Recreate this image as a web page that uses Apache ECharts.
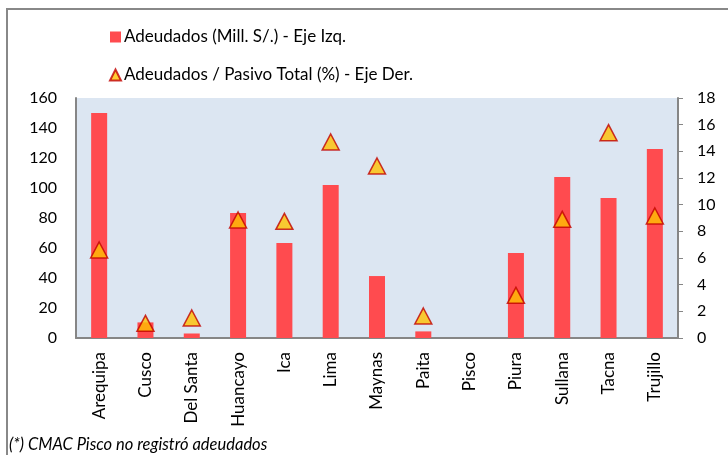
<!DOCTYPE html>
<html>
<head>
<meta charset="utf-8">
<script src="https://cdn.jsdelivr.net/npm/echarts@6/dist/echarts.min.js"></script>
<style>
  html, body { margin: 0; padding: 0; background: #fff; }
  #chart { width: 728px; height: 455px; }
</style>
</head>
<body>
<div id="chart"></div>
<script>
// Cajas municipales (CMAC): adeudados en millones de soles y como % del pasivo total
const categories = ['Arequipa', 'Cusco', 'Del Santa', 'Huancayo', 'Ica', 'Lima', 'Maynas', 'Paita', 'Pisco', 'Piura', 'Sullana', 'Tacna', 'Trujillo'];
const adeudados = [150, 10.4, 3, 83.3, 63.3, 102, 41.3, 4.4, 0, 56.7, 107.3, 93.3, 126];
const ratioPasivo = [6.6, 1.1, 1.5, 8.85, 8.75, 14.7, 12.9, 1.65, null, 3.2, 8.9, 15.4, 9.15];
const leftTicks = [0, 160, 20];
const rightTicks = [0, 18, 2];

const seriesNames = ['Adeudados (Mill. S/.) - Eje Izq.', 'Adeudados / Pasivo Total (%) - Eje Der.'];
const footnote = '(*) CMAC Pisco no registró adeudados';

const FONT = 'Lato, "Open Sans", sans-serif';
const chart = echarts.init(document.getElementById('chart'));

chart.setOption({
  animation: false,
  textStyle: { fontFamily: FONT, color: '#000' },
  graphic: [
    {
      type: 'rect',
      shape: { x: 7, y: 9, width: 740, height: 470 },
      style: { fill: 'none', stroke: '#888888', lineWidth: 2 }
    },
    {
      type: 'text',
      left: 9,
      top: 436,
      style: { text: footnote, font: 'italic 16.5px ' + FONT, fill: '#000' }
    }
  ],
  legend: {
    orient: 'vertical',
    left: 104,
    top: 23,
    itemWidth: 11,
    itemHeight: 11,
    itemGap: 20,
    textStyle: { fontSize: 17, lineHeight: 18, fontFamily: FONT, color: '#000', padding: [0, 0, 0, -2] },
    data: [
      { name: seriesNames[0], icon: 'rect' },
      { name: seriesNames[1], icon: 'triangle' }
    ]
  },
  grid: { left: 76, right: 50, top: 98, bottom: 117, show: true, backgroundColor: '#DCE6F2', borderWidth: 0 },
  xAxis: {
    type: 'category',
    data: categories,
    axisLine: { lineStyle: { color: '#868686', width: 2 } },
    axisTick: { show: false },
    axisLabel: { rotate: 90, fontSize: 17, color: '#000', margin: 14, fontFamily: FONT, interval: 0 }
  },
  yAxis: [
    {
      type: 'value',
      min: leftTicks[0], max: leftTicks[1], interval: leftTicks[2],
      splitLine: { show: false },
      axisLine: { show: true, lineStyle: { color: '#868686', width: 2 } },
      axisTick: { show: false },
      axisLabel: { fontSize: 16, color: '#000', margin: 19, fontFamily: FONT }
    },
    {
      type: 'value',
      position: 'right',
      min: rightTicks[0], max: rightTicks[1], interval: rightTicks[2],
      splitLine: { show: false },
      axisLine: { show: true, lineStyle: { color: '#868686', width: 2 } },
      axisTick: { show: true, length: 5, lineStyle: { color: '#868686', width: 1 } },
      axisLabel: { fontSize: 16, color: '#000', margin: 19, fontFamily: FONT }
    }
  ],
  series: [
    {
      name: seriesNames[0],
      type: 'bar',
      yAxisIndex: 0,
      data: adeudados,
      barWidth: 16,
      itemStyle: { color: '#FF4B4F', borderWidth: 0 }
    },
    {
      name: seriesNames[1],
      type: 'scatter',
      yAxisIndex: 1,
      data: ratioPasivo,
      symbol: 'triangle',
      symbolSize: [17, 16],
      itemStyle: { color: '#FFC000', borderColor: '#C00000', borderWidth: 1.5 },
      z: 5
    }
  ]
});
</script>
</body>
</html>
